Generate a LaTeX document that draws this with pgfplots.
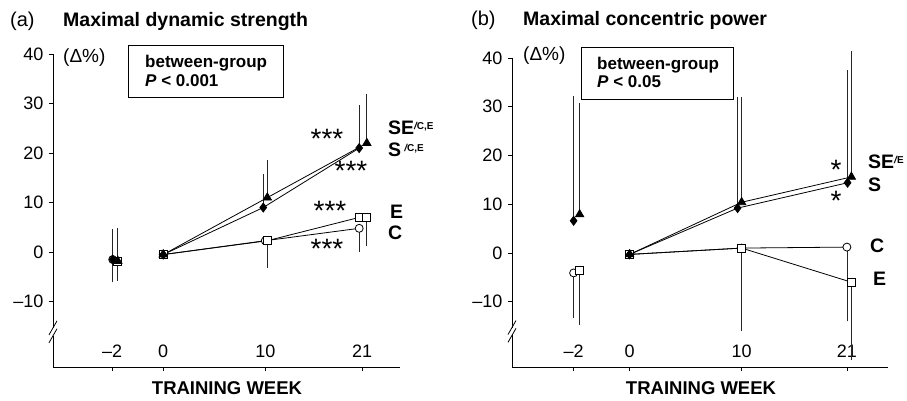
\documentclass[border=0pt]{standalone}
\usepackage{fontspec}
\setmainfont{Liberation Sans}
\usepackage{pgfplots}
\pgfplotsset{compat=1.18}
\newcommand{\fs}[1]{\fontsize{#1}{#1}\selectfont}
\begin{document}
\begin{tikzpicture}[x=1pt,y=1pt]
\path[use as bounding box] (0pt,0pt) rectangle (907pt,401pt);
\pgfplotsset{
  myax/.style={
    scale only axis, clip=false,
    axis line style={draw=none},
    tick pos=left, tick align=outside,
    major tick length=4pt,
    tick style={black, line width=0.8pt},
    ytick={-10,0,10,20,30,40},
    yticklabels={–10,0,10,20,30,40},
    xticklabels={–2,0,10,21},
    tick label style={font=\fs{18}},
    xticklabel style={anchor=base, yshift=13pt},
    yticklabel style={xshift=-2pt},
    ymax=40,
  },
  up/.style={error bars/.cd, y dir=plus, y explicit,
    error bar style={line width=0.8pt, black!85},
    error mark options={line width=0.8pt, mark size=3pt, black!85}},
  dn/.style={error bars/.cd, y dir=minus, y explicit,
    error bar style={line width=0.8pt, black!85},
    error mark options={line width=0.8pt, mark size=3pt, black!85}},
  sS/.style={black, line width=0.8pt, mark=diamond*, mark size=4.5pt, mark options={solid, fill=black}},
  sSE/.style={black, line width=0.8pt, mark=triangle*, mark size=4.8pt, mark options={solid, fill=black}},
  sE/.style={black, line width=0.8pt, mark=square*, mark size=4pt, mark options={solid, fill=white, line width=0.8pt}},
  sC/.style={black, line width=0.8pt, mark=*, mark size=4pt, mark options={solid, fill=white, line width=0.8pt}},
}
% ---------------- panel (a)
\begin{axis}[myax, at={(53pt,34pt)}, anchor=south west, width=347pt, height=313pt,
  xmin=-10.8, xmax=23.2, ymin=-23.2, xtick={-5,0,10,19.5}]
\draw[line width=0.9pt] (axis cs:-10.8,40) -- (axis cs:-10.8,-15.3);
\draw[line width=0.9pt] (axis cs:-10.8,-16.9) -- (axis cs:-10.8,-23.2) -- (axis cs:23.2,-23.2);
\draw[line width=0.8pt] ([shift={(-4pt,-7pt)}]axis cs:-10.8,-15.3) -- ++(8pt,14pt);
\draw[line width=0.8pt] ([shift={(-4pt,-7pt)}]axis cs:-10.8,-16.9) -- ++(8pt,14pt);
% C
\addplot[sC, only marks, dn] table[x index=0, y index=1, y error index=2] {
-4.95 -1.5 4.0
};
\addplot[sC, dn] table[x index=0, y index=1, y error index=2] {
0 -0.5 0
10.0 2.3 0
19.2 4.8 4.2
};
% E
\addplot[sE, only marks, dn] table[x index=0, y index=1, y error index=2] {
-4.45 -1.8 3.4
};
\addplot[sE, dn] table[x index=0, y index=1, y error index=2] {
0 -0.5 0
10.2 2.3 4.9
19.2 7.0 0
19.95 7.0 5.2
};
% S
\addplot[sS, only marks, up] table[x index=0, y index=1, y error index=2] {
-4.95 -1.5 5.5
};
\addplot[sS, up] table[x index=0, y index=1, y error index=2] {
0 -0.5 0
9.8 9.0 6.2
19.2 21.0 8.1
};
% SE
\addplot[sSE, only marks, up] table[x index=0, y index=1, y error index=2] {
-4.45 -1.8 6.1
};
\addplot[sSE, up] table[x index=0, y index=1, y error index=2] {
0 -0.5 0
10.2 11.0 7.0
19.95 22.0 9.4
};
\end{axis}
% ---------------- panel (b)
\begin{axis}[myax, at={(512pt,34pt)}, anchor=south west, width=376pt, height=309pt,
  xmin=-10.5, xmax=23.07, ymin=-23.4, xtick={-5,0,10,19.4}]
\draw[line width=0.9pt] (axis cs:-10.5,40) -- (axis cs:-10.5,-15.3);
\draw[line width=0.9pt] (axis cs:-10.5,-16.9) -- (axis cs:-10.5,-23.4) -- (axis cs:23.07,-23.4);
\draw[line width=0.8pt] ([shift={(-4pt,-7pt)}]axis cs:-10.5,-15.3) -- ++(8pt,14pt);
\draw[line width=0.8pt] ([shift={(-4pt,-7pt)}]axis cs:-10.5,-16.9) -- ++(8pt,14pt);
% C
\addplot[sC, only marks, dn] table[x index=0, y index=1, y error index=2] {
-5.0 -4.1 8.7
};
\addplot[sC, dn] table[x index=0, y index=1, y error index=2] {
0 -0.3 0
10.0 1.0 0
19.4 1.2 14.6
};
% E
\addplot[sE, only marks, dn] table[x index=0, y index=1, y error index=2] {
-4.46 -3.6 10.6
};
\addplot[sE, dn] table[x index=0, y index=1, y error index=2] {
0 -0.3 0
10.0 1.0 16.4
19.8 -6.0 15.3
};
% S
\addplot[sS, only marks, up] table[x index=0, y index=1, y error index=2] {
-5.0 6.6 24.9
};
\addplot[sS, up] table[x index=0, y index=1, y error index=2] {
0 -0.3 0
9.64 9.2 22.1
19.46 14.4 22.5
};
% SE
\addplot[sSE, only marks, up] table[x index=0, y index=1, y error index=2] {
-4.46 7.9 22.2
};
\addplot[sSE, up] table[x index=0, y index=1, y error index=2] {
0 -0.3 0
10.0 10.4 20.9
19.8 15.6 25.2
};
\end{axis}
% ---------------- texts (a)
\node[anchor=base west, inner sep=0] at (10,374) {\fs{20}(a)};
\node[anchor=base west, inner sep=0] at (63,374) {\fs{19.5}\bfseries Maximal dynamic strength};
\node[anchor=base west, inner sep=0] at (63,338) {\fs{19}(Δ\%)};
\draw[line width=0.9pt] (128,356) rectangle (283,304);
\node[anchor=base west, inner sep=0] at (145,333) {\fs{17}\bfseries between-group};
\node[anchor=base west, inner sep=0] at (145,314) {\fs{17}\bfseries\itshape P\upshape\ < 0.001};
\node[anchor=base, inner sep=0] at (327,252) {\fs{28}***};
\node[anchor=base, inner sep=0] at (351,220) {\fs{28}***};
\node[anchor=base, inner sep=0] at (330,180) {\fs{28}***};
\node[anchor=base, inner sep=0] at (327,142) {\fs{28}***};
\node[anchor=base west, inner sep=0] at (388,266) {\fs{19.5}\bfseries SE\raisebox{5pt}{\fs{10}\itshape /\upshape C,E}};
\node[anchor=base west, inner sep=0] at (388,244) {\fs{19.5}\bfseries S\,\raisebox{5pt}{\fs{10}\itshape /\upshape C,E}};
\node[anchor=base west, inner sep=0] at (390,182) {\fs{19.5}\bfseries E};
\node[anchor=base west, inner sep=0] at (388,161) {\fs{19.5}\bfseries C};
\node[anchor=base, inner sep=0] at (227,6) {\fs{18.5}\bfseries TRAINING WEEK};
% ---------------- texts (b)
\node[anchor=base west, inner sep=0] at (471,375) {\fs{20}(b)};
\node[anchor=base west, inner sep=0] at (523,375) {\fs{19.5}\bfseries Maximal concentric power};
\node[anchor=base west, inner sep=0] at (523,340) {\fs{19}(Δ\%)};
\draw[line width=0.9pt] (581,354) rectangle (733,302);
\node[anchor=base west, inner sep=0] at (597,331) {\fs{17}\bfseries between-group};
\node[anchor=base west, inner sep=0] at (597,313) {\fs{17}\bfseries\itshape P\upshape\ < 0.05};
\node[anchor=base, inner sep=0] at (836,221) {\fs{28}*};
\node[anchor=base, inner sep=0] at (836,190) {\fs{28}*};
\node[anchor=base west, inner sep=0] at (868,232) {\fs{19.5}\bfseries SE\raisebox{5pt}{\fs{10}\itshape /\upshape E}};
\node[anchor=base west, inner sep=0] at (868,209) {\fs{19.5}\bfseries S};
\node[anchor=base west, inner sep=0] at (870,148) {\fs{19.5}\bfseries C};
\node[anchor=base west, inner sep=0] at (873,115) {\fs{19.5}\bfseries E};
\node[anchor=base, inner sep=0] at (701,6) {\fs{18.5}\bfseries TRAINING WEEK};
\end{tikzpicture}
\end{document}
